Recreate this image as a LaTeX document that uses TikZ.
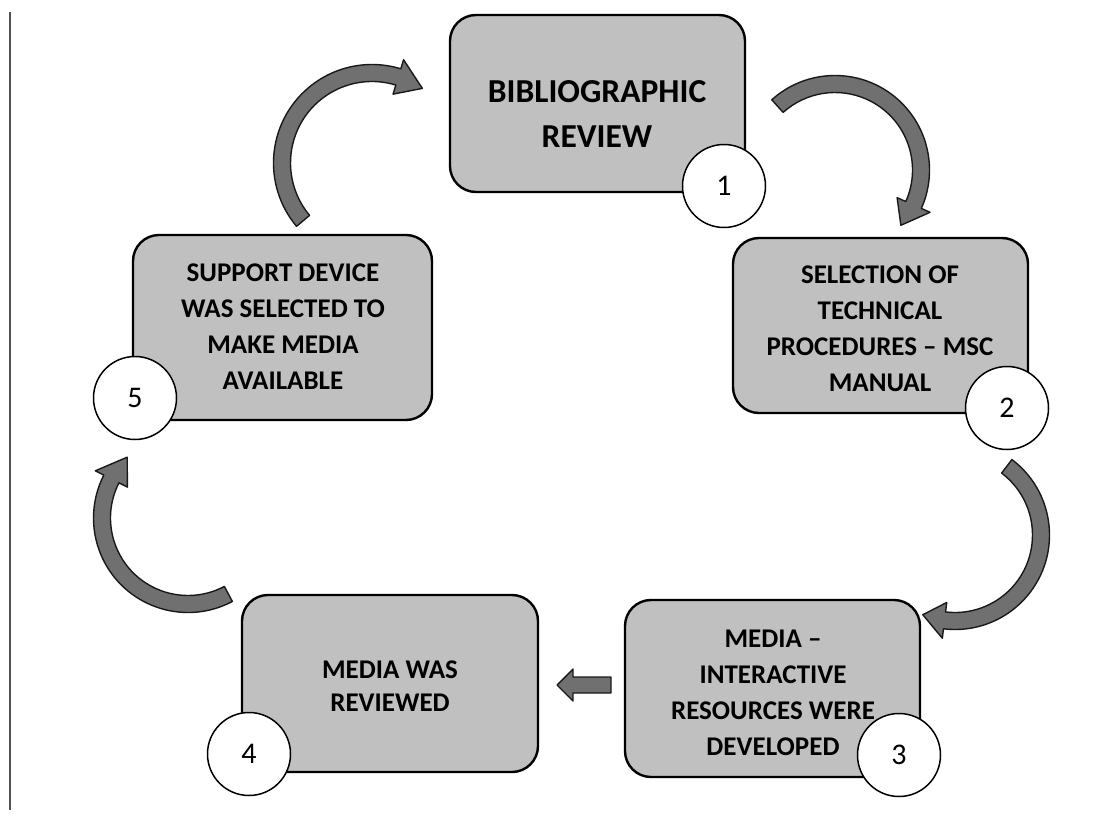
\documentclass[tikz,border=0pt]{standalone}
\usepackage{fontspec}
\setmainfont{Carlito}
\usetikzlibrary{calc}
\definecolor{boxgray}{RGB}{192,192,192}
\definecolor{arrowgray}{RGB}{112,112,112}
\definecolor{edgegray}{RGB}{25,25,25}
\definecolor{rulegray}{RGB}{80,80,80}
% curved block arrow: cx, cy, radius, tail angle, head-base angle, tip angle
\newcommand\bentarrow[6]{%
  \pgfmathsetmacro\bro{#3+8.5}\pgfmathsetmacro\bri{#3-8.5}%
  \pgfmathsetmacro\bho{#3+18}\pgfmathsetmacro\bhi{#3-18}%
  \filldraw[arrowshape] ([shift={(#4:\bro)}]#1,#2) arc[start angle=#4,end angle=#5,radius=\bro]
    -- ([shift={(#5:\bho)}]#1,#2) -- ([shift={(#6:#3)}]#1,#2) -- ([shift={(#5:\bhi)}]#1,#2)
    -- ([shift={(#5:\bri)}]#1,#2) arc[start angle=#5,end angle=#4,radius=\bri] -- cycle;}
\begin{document}
\begin{tikzpicture}[x=1pt,y=-1pt,
  stagebox/.style={draw=black, line width=2.4pt, fill=boxgray, rounded corners=26pt, inner sep=0pt},
  numcircle/.style={circle, draw=black, line width=1.5pt, fill=white, minimum size=83pt, inner sep=0pt, font=\fontsize{30}{32}\selectfont},
  stagetext/.style={align=center, font=\bfseries\fontsize{27}{36}\selectfont, inner sep=0pt},
  arrowshape/.style={fill=arrowgray, draw=edgegray, line width=1.4pt, line join=round}]
\useasboundingbox[fill=white] (0,0) rectangle (1098,819);
% left rule
\coordinate (ruletop) at (10,12);
\coordinate (rulebot) at (10,810);
\draw[line width=2.6pt, draw=rulegray] (ruletop) -- (rulebot);
% boxes
\node[stagebox, minimum width=295, minimum height=177] (b1) at (597.5,103.5) {};
\node[stagebox, minimum width=295, minimum height=175] (b2) at (880.5,325.5) {};
\node[stagebox, minimum width=295, minimum height=177] (b3) at (772.5,688.5) {};
\node[stagebox, minimum width=296, minimum height=177] (b4) at (390,683.5) {};
\node[stagebox, minimum width=299, minimum height=185] (b5) at (282.5,327.5) {};
% texts
\node[stagetext, font=\bfseries\fontsize{33.5}{45}\selectfont] (t1) at (597,114.5) {BIBLIOGRAPHIC\\REVIEW};
\node[stagetext] (t2) at (880,329) {SELECTION OF\\TECHNICAL\\PROCEDURES – MSC\\MANUAL};
\node[stagetext] (t3) at (773,692.5) {MEDIA –\\INTERACTIVE\\RESOURCES WERE\\DEVELOPED};
\node[stagetext, font=\bfseries\fontsize{27}{33}\selectfont] (t4) at (390,686.5) {MEDIA WAS\\REVIEWED};
\node[stagetext] (t5) at (283,326.5) {SUPPORT DEVICE\\WAS SELECTED TO\\MAKE MEDIA\\AVAILABLE};
% number circles
\node[numcircle] (c1) at (724,186) {1};
\node[numcircle] (c2) at (1007,408) {2};
\node[numcircle] (c3) at (899,755) {3};
\node[numcircle] (c4) at (249,754) {4};
\node[numcircle] (c5) at (135,398) {5};
% curved arrows
\bentarrow{372}{163}{90}{140}{287}{304}
\bentarrow{835}{170}{86}{228}{384}{400}
\bentarrow{955}{535}{86}{-53}{97}{112}
\bentarrow{188}{518}{86}{62}{207}{225}
% straight arrow 3 -> 4
\filldraw[arrowshape] (557,685) -- (573,669) -- (573,677) -- (611,677) -- (611,693) -- (573,693) -- (573,701) -- cycle;
\end{tikzpicture}
\end{document}
